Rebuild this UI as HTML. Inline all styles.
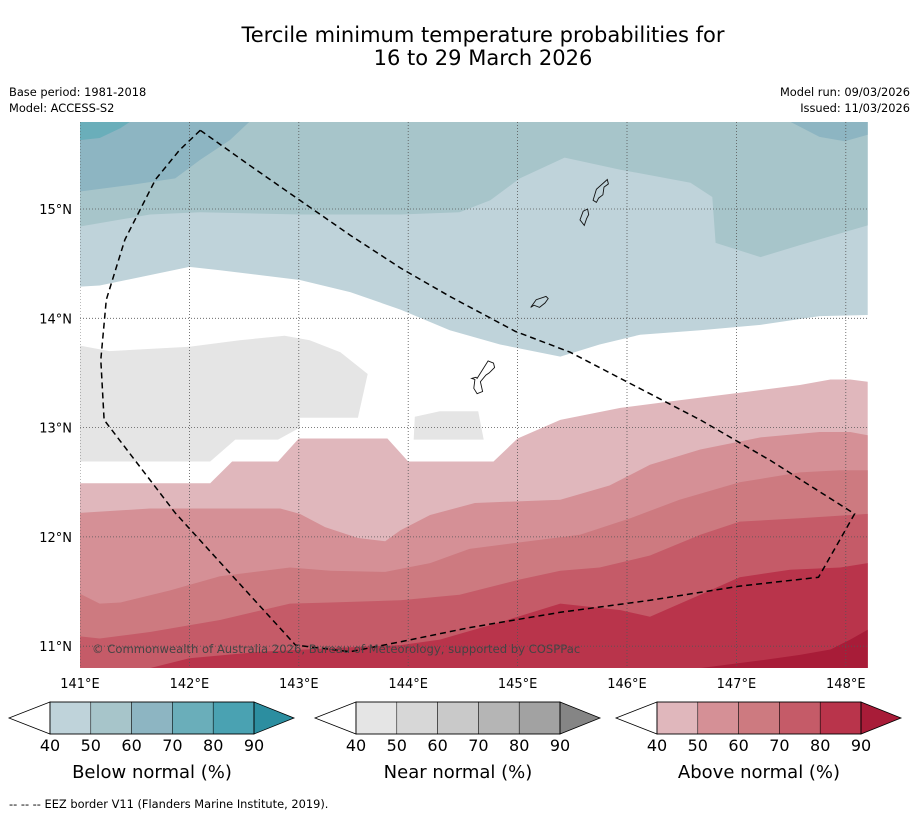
<!DOCTYPE html>
<html><head><meta charset="utf-8">
<style>
body{margin:0;background:#fff;width:919px;height:816px;overflow:hidden;font-family:"Liberation Sans",sans-serif}
</style></head>
<body>
<svg id="s" width="919" height="816" xmlns="http://www.w3.org/2000/svg" style="font-family:'DejaVu Sans','Liberation Sans',sans-serif">
<text x="483" y="42" text-anchor="middle" font-size="21">Tercile minimum temperature probabilities for</text>
<text x="483" y="65" text-anchor="middle" font-size="21">16 to 29 March 2026</text>
<text x="9" y="96" font-size="11.4">Base period: 1981-2018</text>
<text x="9" y="112" font-size="11.4">Model: ACCESS-S2</text>
<text x="910" y="96" font-size="11.4" text-anchor="end">Model run: 09/03/2026</text>
<text x="910" y="112" font-size="11.4" text-anchor="end">Issued: 11/03/2026</text>
<defs><clipPath id="mc"><rect x="80" y="122" width="788" height="546"/></clipPath></defs>
<g id="map" clip-path="url(#mc)"></g>
<g id="axes"></g>
<g id="cbars"></g>
<text x="9" y="808" font-size="11.4">-- -- -- EEZ border V11 (Flanders Marine Institute, 2019).</text>
</svg>
<script>
const lonTicks=[141,142,143,144,145,146,147,148];
const latTicks=[15,14,13,12,11];
const cbarTicks=[40,50,60,70,80,90];
const blueColors=["#bfd3da","#a7c5ca","#8db5c2","#6aaeba","#4aa2b2","#2c8ea0"];
const grayColors=["#e5e5e5","#d7d7d7","#c9c9c9","#b5b5b5","#a2a2a2","#858585"];
const redColors=["#e0b7bc","#d59096","#cd7a80","#c55b68","#b9344b","#a81c38"];
// contour lines [lon,lat]
const blue40Edge=[[141,14.29],[141.18,14.30],[142.0,14.47],[142.28,14.44],[143.01,14.35],[143.47,14.24],[143.93,14.08],[144.38,13.89],[144.84,13.76],[145.39,13.65],[145.75,13.76],[146.12,13.85],[146.67,13.89],[147.22,13.94],[147.76,14.02],[148.2,14.03]];
const blue50Edge=[[141,14.84],[141.64,14.95],[142.10,14.97],[143.01,14.95],[143.93,14.95],[144.47,14.97],[144.75,15.08],[145.02,15.28],[145.43,15.47],[145.94,15.36],[146.58,15.24],[146.78,15.11],[146.81,14.69],[147.22,14.56],[147.58,14.67],[148.2,14.85]];
const blue60EdgeW=[[141,15.16],[141.46,15.22],[141.87,15.28],[142.10,15.45],[142.37,15.63],[142.55,15.80]];
const blue60EdgeE=[[147.49,15.80],[147.76,15.66],[147.99,15.62],[148.2,15.68]];
const blue70Edge=[[141,15.63],[141.18,15.65],[141.37,15.74],[141.46,15.80]];
const near40A=[[141,13.75],[141.27,13.70],[142.0,13.74],[142.46,13.80],[142.87,13.84],[143.10,13.80],[143.38,13.69],[143.63,13.49],[143.54,13.09],[143.01,13.09],[143.01,13.0],[142.81,12.89],[142.42,12.89],[142.19,12.69],[141,12.69]];
const near40B=[[144.06,13.10],[144.29,13.15],[144.64,13.15],[144.69,12.89],[144.05,12.89]];
const red40Edge=[[141,12.49],[142.19,12.49],[142.39,12.69],[142.81,12.69],[143.0,12.90],[143.81,12.90],[144.0,12.69],[144.78,12.69],[145.0,12.90],[145.39,13.07],[145.94,13.18],[146.48,13.25],[147.12,13.33],[147.58,13.39],[147.86,13.44],[148.04,13.44],[148.2,13.42]];
const red50Edge=[[141,12.22],[141.64,12.26],[142.10,12.26],[142.83,12.26],[143.01,12.21],[143.24,12.09],[143.54,11.99],[143.79,11.96],[143.93,12.06],[144.20,12.20],[144.61,12.31],[145.39,12.34],[145.84,12.47],[146.21,12.66],[146.67,12.80],[147.22,12.91],[147.76,12.96],[148.04,12.96],[148.2,12.93]];
const red60Edge=[[141,11.48],[141.18,11.39],[141.37,11.40],[141.82,11.51],[142.28,11.64],[142.92,11.72],[143.29,11.69],[143.79,11.68],[144.20,11.76],[144.56,11.89],[145.02,11.95],[145.57,12.02],[146.03,12.17],[146.48,12.34],[147.03,12.50],[147.58,12.59],[147.95,12.61],[148.2,12.61]];
const red70Edge=[[141,11.09],[141.18,11.07],[141.64,11.13],[142.28,11.24],[142.92,11.39],[143.29,11.40],[143.93,11.42],[144.47,11.47],[145.02,11.61],[145.39,11.69],[145.75,11.72],[146.21,11.83],[146.67,12.02],[147.03,12.14],[147.58,12.17],[148.2,12.21]];
const red80Edge=[[141.64,10.80],[142.0,10.89],[142.65,10.95],[143.47,10.99],[143.93,11.01],[144.29,11.06],[144.84,11.22],[145.39,11.39],[145.94,11.33],[146.21,11.27],[146.67,11.47],[147.03,11.63],[147.49,11.70],[147.95,11.72],[148.2,11.76]];
const red90EdgeE=[[146.67,10.80],[147.22,10.87],[147.58,10.92],[147.86,10.97],[148.04,11.06],[148.2,11.15]];
const eez=[[142.10,15.72],[142.55,15.40],[143.01,15.08],[143.47,14.76],[143.93,14.46],[144.38,14.20],[144.98,13.88],[145.48,13.69],[145.94,13.45],[146.67,13.07],[147.31,12.70],[148.08,12.21],[147.75,11.63],[147.03,11.55],[146.21,11.42],[145.39,11.31],[144.56,11.17],[143.93,11.04],[143.47,10.95],[142.97,11.01],[142.46,11.57],[141.87,12.22],[141.22,13.07],[141.19,13.62],[141.24,14.17],[141.41,14.72],[141.69,15.27],[141.91,15.54],[142.10,15.72]];
const guam=[[144.63,13.45],[144.73,13.61],[144.78,13.59],[144.79,13.55],[144.74,13.50],[144.71,13.48],[144.66,13.42],[144.68,13.33],[144.63,13.31],[144.60,13.36],[144.61,13.44],[144.58,13.45],[144.62,13.46]];
const rota=[[145.12,14.10],[145.17,14.17],[145.26,14.20],[145.28,14.18],[145.25,14.14],[145.20,14.10],[145.15,14.12]];
const tinian=[[145.57,14.90],[145.60,14.98],[145.64,15.00],[145.65,14.95],[145.63,14.91],[145.61,14.85]];
const saipan=[[145.69,15.08],[145.72,15.18],[145.82,15.27],[145.83,15.23],[145.79,15.20],[145.78,15.13],[145.74,15.10],[145.72,15.06]];

const NS="http://www.w3.org/2000/svg";
const X0=80,PX=109.4,Y0=209,PY=109.3;
function xs(lon){return X0+(lon-141)*PX;}
function ys(lat){return Y0-(lat-15)*PY;}
function pts(a){return a.map(p=>xs(p[0]).toFixed(1)+","+ys(p[1]).toFixed(1));}
const map=document.getElementById('map');
function add(parent,tag,attrs){const e=document.createElementNS(NS,tag);for(const k in attrs)e.setAttribute(k,attrs[k]);parent.appendChild(e);return e;}
const T=15.80,B=10.80,L=141,R=148.2;
function band(line,cap,color,name){
  let a=line.slice();
  const first=a[0],last=a[a.length-1];
  if(cap==='top'){a.push([last[0]>=R?R:last[0],T],[R,T+0.1]);a=a.concat([[L,T+0.1],[first[0]<=L?L:first[0],T]]);}
  if(cap==='topW'){a.push([L,T+0.1]);}
  if(cap==='topE'){a.push([R,T+0.1]);}
  if(cap==='bottom'){a.push([R,B-0.1],[L,B-0.1]);}
  if(cap==='bottomE'){a.push([R,B-0.1]);}
  const p=add(map,'polygon',{points:pts(a).join(' '),fill:color});
  
  
}
band(blue40Edge,'top',blueColors[0],'band-below-40');
band(blue50Edge,'top',blueColors[1],'band-below-50');
band(blue60EdgeW,'topW',blueColors[2],'band-below-60-west');
band(blue60EdgeE,'topE',blueColors[2],'band-below-60-east');
band(blue70Edge,'topW',blueColors[3],'band-below-70');
band(near40A,'none',grayColors[0],'band-near-40-west');
band(near40B,'none',grayColors[0],'band-near-40-central');
band(red40Edge,'bottom',redColors[0],'band-above-40');
band(red50Edge,'bottom',redColors[1],'band-above-50');
band(red60Edge,'bottom',redColors[2],'band-above-60');
band(red70Edge,'bottom',redColors[3],'band-above-70');
band(red80Edge,'bottom',redColors[4],'band-above-80');
band(red90EdgeE,'bottomE',redColors[5],'band-above-90');
lonTicks.forEach(v=>{const l=add(map,'line',{x1:xs(v),x2:xs(v),y1:122,y2:668,stroke:'#555','stroke-width':0.8,'stroke-dasharray':'1,2'});

});
latTicks.forEach(v=>{const l=add(map,'line',{x1:80,x2:868,y1:ys(v),y2:ys(v),stroke:'#555','stroke-width':0.8,'stroke-dasharray':'1,2'});

});
[[guam,'guam'],[rota,'rota'],[tinian,'tinian'],[saipan,'saipan']].forEach(([a,n])=>{const p=add(map,'polygon',{points:pts(a).join(' '),fill:'none',stroke:'#111','stroke-width':0.9});

});
const ez=add(map,'polyline',{points:pts(eez).join(' '),fill:'none',stroke:'#000','stroke-width':1.5,'stroke-dasharray':'6,4'});


const cp=add(map,'text',{x:92,y:653,'font-size':11.6,fill:'#444'});cp.textContent='© Commonwealth of Australia 2026, Bureau of Meteorology, supported by COSPPac';


const ax=document.getElementById('axes');
lonTicks.forEach(v=>{const t=add(ax,'text',{x:xs(v),y:688,'font-size':13,'text-anchor':'middle'});t.textContent=v+'°E';

});
latTicks.forEach(v=>{const t=add(ax,'text',{x:72,y:ys(v)+5,'font-size':13,'text-anchor':'end'});t.textContent=v+'°N';

});
const cb=document.getElementById('cbars');
function cbar(x0,colors,title,name){
  const g=add(cb,'g',{});
  
  
  const y0=702,h=32,w=204,seg=w/5;
  add(g,'polygon',{points:`${x0+41},${y0} ${x0},${y0+h/2} ${x0+41},${y0+h}`,fill:'#fff',stroke:'#000','stroke-width':0.8});
  const rx=x0+41;
  for(let i=0;i<5;i++)add(g,'rect',{x:rx+i*seg,y:y0,width:seg,height:h,fill:colors[i],stroke:'#000','stroke-width':0.5});
  add(g,'polygon',{points:`${rx+w},${y0} ${rx+w+40},${y0+h/2} ${rx+w},${y0+h}`,fill:colors[5],stroke:'#000','stroke-width':0.8});
  add(g,'rect',{x:rx,y:y0,width:w,height:h,fill:'none',stroke:'#000','stroke-width':0.8});
  cbarTicks.forEach((v,i)=>{const t=add(g,'text',{x:rx+i*seg,y:751,'font-size':16,'text-anchor':'middle'});t.textContent=v;});
  const tt=add(g,'text',{x:rx+w/2,y:778,'font-size':18,'text-anchor':'middle'});tt.textContent=title;
}
cbar(9,blueColors,'Below normal (%)','colorbar-below');
cbar(315,grayColors,'Near normal (%)','colorbar-near');
cbar(616,redColors,'Above normal (%)','colorbar-above');
</script>
</body></html>
